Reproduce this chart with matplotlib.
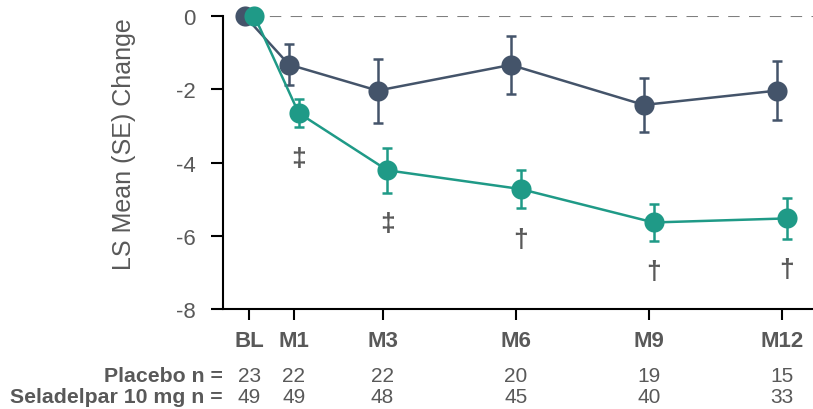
import matplotlib.pyplot as plt
import matplotlib.transforms as mtransforms
import numpy as np

plt.rcParams['font.family'] = ['Liberation Sans', 'DejaVu Sans']

# visit schedule (months from baseline)
months = [0, 1, 3, 6, 9, 12]
visit_labels = ['BL', 'M1', 'M3', 'M6', 'M9', 'M12']

# LS mean change and SE per arm
placebo_mean = [0, -1.33, -2.04, -1.34, -2.43, -2.04]
placebo_se = [0, 0.55, 0.87, 0.80, 0.74, 0.80]
sela_mean = [0, -2.65, -4.21, -4.72, -5.63, -5.52]
sela_se = [0, 0.38, 0.61, 0.53, 0.50, 0.55]

# patients per visit
placebo_n = [23, 22, 22, 20, 19, 15]
sela_n = [49, 49, 48, 45, 40, 33]

# significance symbols for seladelpar vs placebo
sig_marks = ['', '\u2021', '\u2021', '\u2020', '\u2020', '\u2020']

PLACEBO_COLOR = '#44546a'
SELA_COLOR = '#1f9a87'
GRAY = '#595959'

fig = plt.figure(figsize=(8.13, 4.10), dpi=100)
ax = fig.add_axes([0.274, 0.2427, 0.726, 0.7166])

x = np.array(months, dtype=float)
x_pla = x - 0.11
x_sel = x + 0.11

ax.plot([x[0], 12.7], [0, 0], color='#7f7f7f', lw=1.5,
        linestyle=(0, (5.5, 4.5)), zorder=1)

for xs, mean, se, color, z in [(x_pla, placebo_mean, placebo_se, PLACEBO_COLOR, 3),
                               (x_sel, sela_mean, sela_se, SELA_COLOR, 5)]:
    ax.errorbar(xs[1:], mean[1:], yerr=se[1:], fmt='none', ecolor=color,
                elinewidth=1.8, capsize=3.8, capthick=1.8, zorder=z, clip_on=False)
    ax.plot(xs, mean, color=color, lw=1.8, marker='o', markersize=14.5,
            markeredgewidth=0, zorder=z + 1, clip_on=False)

for xi, m, s, sym in zip(x_sel, sela_mean, sela_se, sig_marks):
    if sym:
        ax.annotate(sym, (xi, m - s), xytext=(0, -22), textcoords='offset points',
                    ha='center', va='center', fontsize=19, fontweight='bold',
                    color=GRAY)

ax.set_xlim(-0.6, 12.7)
ax.set_ylim(-8, 0)
ax.set_yticks([0, -2, -4, -6, -8])
ax.set_yticklabels(['0', '-2', '-4', '-6', '-8'])
ax.set_xticks(months)
ax.set_xticklabels(visit_labels, fontweight='bold')

ax.tick_params(axis='y', direction='out', length=8.5, width=1.5, pad=11,
               labelsize=16, labelcolor=GRAY)
ax.tick_params(axis='x', direction='out', length=8, width=1.5, pad=7,
               labelsize=16, labelcolor=GRAY)
for side in ['top', 'right']:
    ax.spines[side].set_visible(False)
for side in ['left', 'bottom']:
    ax.spines[side].set_linewidth(1.5)

ax.set_ylabel('LS Mean (SE) Change', fontsize=18, color=GRAY)
ax.yaxis.set_label_coords(-0.147, 0.565)

# n-at-risk rows under the axis
trans = mtransforms.blended_transform_factory(ax.transData, fig.transFigure)
row_y = [0.069, 0.0163]
for name, counts, yy in [('Placebo n =', placebo_n, row_y[0]),
                         ('Seladelpar 10 mg n =', sela_n, row_y[1])]:
    fig.text(0.274, yy, name, ha='right', va='baseline', fontsize=15.3,
             fontweight='bold', color=GRAY)
    for xi, n in zip(months, counts):
        ax.text(xi, yy, str(n), transform=trans, ha='center', va='baseline',
                fontsize=15, color=GRAY)

fig.savefig('out.png', dpi=100)
